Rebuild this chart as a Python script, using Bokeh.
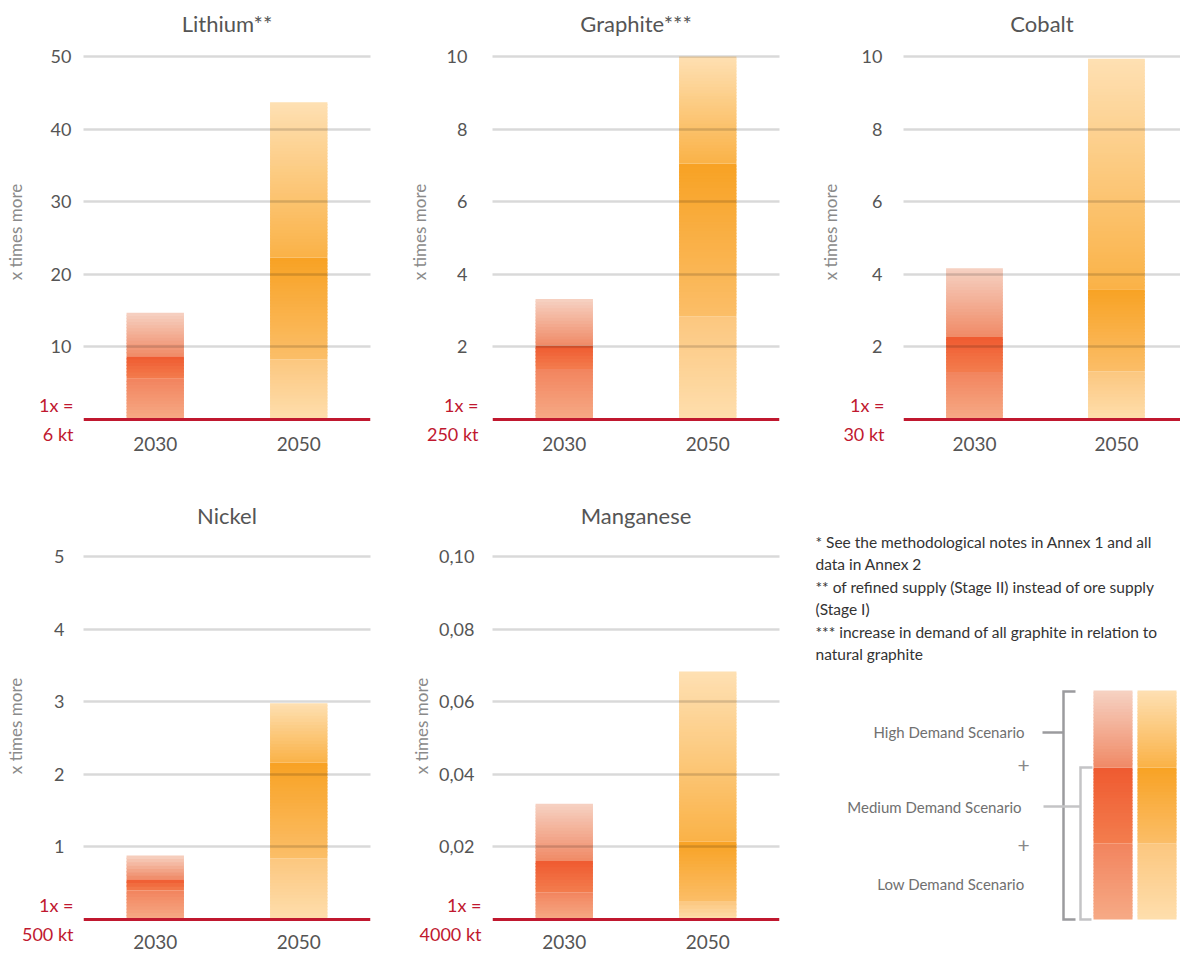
from bokeh.plotting import figure
from bokeh.layouts import column, row
from bokeh.models import Range1d, FixedTicker, Span, LinearAxis, ColumnDataSource
from bokeh.embed import file_html
from bokeh.resources import INLINE
from bokeh.core.properties import value

FONT = "Lato"

# ---------------- data ----------------
years = ["2030", "2050"]
materials = ["Lithium**", "Graphite***", "Cobalt", "Nickel", "Manganese"]
base_units = ["1x =\n6 kt", "1x =\n250 kt", "1x =\n30 kt", "1x =\n500 kt", "1x =\n4000 kt"]

# demand as multiple of current supply; [2030, 2050]
lithium_low = [5.6, 8.3]
lithium_medium = [8.7, 22.3]
lithium_high = [14.7, 43.7]

graphite_low = [1.39, 2.84]
graphite_medium = [2.03, 7.05]
graphite_high = [3.32, 10.0]

cobalt_low = [1.31, 1.32]
cobalt_medium = [2.27, 3.59]
cobalt_high = [4.17, 9.94]

nickel_low = [0.40, 0.84]
nickel_medium = [0.556, 2.16]
nickel_high = [0.88, 2.98]

manganese_low = [0.0075, 0.0049]
manganese_medium = [0.0161, 0.0214]
manganese_high = [0.0319, 0.0683]

lithium_ticks = [10, 20, 30, 40, 50]
lithium_tick_labels = ["10", "20", "30", "40", "50"]
graphite_ticks = [2, 4, 6, 8, 10]
graphite_tick_labels = ["2", "4", "6", "8", "10"]
cobalt_ticks = [2, 4, 6, 8, 10]
cobalt_tick_labels = ["2", "4", "6", "8", "10"]
nickel_ticks = [1, 2, 3, 4, 5]
nickel_tick_labels = ["1", "2", "3", "4", "5"]
manganese_ticks = [0.02, 0.04, 0.06, 0.08, 0.10]
manganese_tick_labels = ["0,02", "0,04", "0,06", "0,08", "0,10"]

scenario_labels = ["High Demand Scenario", "Medium Demand Scenario", "Low Demand Scenario"]
notes = [
    "* See the methodological notes in Annex 1 and all",
    "data in Annex 2",
    "** of refined supply (Stage II) instead of ore supply",
    "(Stage I)",
    "*** increase in demand of all graphite in relation to",
    "natural graphite",
]

# ---------------- styles ----------------
# (bottom colour, top colour) of each scenario band
RED = {"low": ("#F6AA86", "#F2845E"), "medium": ("#F37D4E", "#EF5A30"), "high": ("#F08A66", "#F6D2C3")}
ORANGE = {"low": ("#FEDEAD", "#FCC77F"), "medium": ("#FBBE68", "#F8A224"), "high": ("#FAB247", "#FEE0B3")}
PALETTES = [RED, ORANGE]
BASE_RED = "#C0182F"
TXT = "#555555"
PX_PER_X = 143.5
DATA_PX = 363.0


def rgb(h):
    return tuple(int(h[i:i + 2], 16) for i in (1, 3, 5))


def mix(c1, c2, t):
    a, b = rgb(c1), rgb(c2)
    return "#%02x%02x%02x" % tuple(round(a[k] + (b[k] - a[k]) * t) for k in range(3))


def gradient(bottom, top, c_bot, c_top, px_height):
    """Split one band into ~3px slices (slightly overlapping) to imitate a colour gradient."""
    n = max(2, int(abs(px_height) / 3))
    bs, ts, cs = [], [], []
    h = (top - bottom) / n
    for i in range(n):
        b = bottom + h * i
        t = bottom + h * (i + 1)
        if i < n - 1:
            t += h * 0.4
        bs.append(b)
        ts.append(t)
        cs.append(mix(c_bot, c_top, (i + 0.5) / n))
    return bs, ts, cs


def make_panel(title, low, med, high, ticks, tick_labels, base_text, s):
    T = ticks[-1]
    ppu = DATA_PX / T
    frame_top = s["zero"] - DATA_PX - s["pad_t"]
    frame_bot = s["zero"] + 2
    frame_w = min(287, s["w"] - s["left"])
    b_right = s["w"] - s["left"] - frame_w
    p = figure(width=s["w"], height=s["h"], output_backend="svg", toolbar_location=None,
               x_range=Range1d(0, frame_w / PX_PER_X),
               y_range=Range1d(-2 / ppu, T + s["pad_t"] / ppu),
               min_border_left=s["left"], min_border_right=b_right,
               min_border_top=int(frame_top), min_border_bottom=int(s["h"] - frame_bot),
               title=title)
    p.outline_line_color = None
    p.title.align = "center"
    p.title.text_font = FONT
    p.title.text_font_size = "22px"
    p.title.text_font_style = "normal"
    p.title.text_color = TXT
    p.title.standoff = s["title_so"]

    # bars with gradient bands
    xs, bs, ts, cs = [], [], [], []
    for i in range(len(years)):
        pal = PALETTES[i]
        for (b, t, key) in ((0, low[i], "low"), (low[i], med[i], "medium"), (med[i], high[i], "high")):
            gb, gt, gc = gradient(b, t, pal[key][0], pal[key][1], (t - b) * ppu)
            xs += [i + 0.5] * len(gb)
            bs += gb
            ts += gt
            cs += gc
    src = ColumnDataSource(dict(x=xs, bottom=bs, top=ts, color=cs))
    p.vbar(x="x", width=0.4, bottom="bottom", top="top", fill_color="color",
           line_color=None, source=src)

    # grid drawn over the bars
    p.xgrid.visible = False
    p.ygrid.ticker = FixedTicker(ticks=ticks)
    p.ygrid.grid_line_color = "black"
    p.ygrid.grid_line_alpha = 0.15
    p.ygrid.grid_line_width = 2.5
    p.ygrid.level = "overlay"

    # x axis: years
    xa = p.xaxis[0]
    xa.ticker = FixedTicker(ticks=[i + 0.5 for i in range(len(years))])
    xa.major_label_overrides = {i + 0.5: y for i, y in enumerate(years)}
    xa.major_label_text_font_size = "19px"
    xa.major_label_standoff = s["xlab_so"]

    # inner left axis: reference quantity (1x = ...) at zero, in red
    ra = p.yaxis[0]
    ra.ticker = FixedTicker(ticks=[0])
    ra.major_label_overrides = {0: base_text}
    ra.major_label_text_color = BASE_RED
    ra.major_label_text_font_size = "18px"
    ra.major_label_text_line_height = 1.35
    ra.major_label_text_align = "left"
    ra.major_label_standoff = s["red_so"]

    # outer left axis: multiples
    ma = LinearAxis(ticker=FixedTicker(ticks=ticks),
                    major_label_overrides=dict(zip(ticks, tick_labels)))
    ma.major_label_text_font_size = "18px"
    ma.major_label_text_color = TXT
    ma.major_label_standoff = s["tick_so"] - (s["red_so"] + s["red_w"])
    ma.axis_label = "x times more"
    ma.axis_label_text_font = FONT
    ma.axis_label_text_font_size = "17px"
    ma.axis_label_text_font_style = "normal"
    ma.axis_label_text_color = "#8a8a8a"
    ma.axis_label_standoff = s["axlab_so"]
    p.add_layout(ma, "left")

    for ax in (xa, ra, ma):
        ax.axis_line_color = None
        ax.major_tick_line_color = None
        ax.minor_tick_line_color = None
        ax.major_tick_out = 0
        ax.major_tick_in = 0
        ax.minor_tick_out = 0
        ax.major_label_text_font = FONT
    xa.major_label_text_color = TXT

    p.add_layout(Span(location=0, dimension="width", line_color=BASE_RED, line_width=3))
    return p


ROW1 = dict(h=470, zero=419, pad_t=14, title_so=12, xlab_so=15)
ROW2 = dict(h=482, zero=449, pad_t=26, title_so=4, xlab_so=13)

s1 = dict(ROW1, w=405, left=83, red_so=10, red_w=35, tick_so=10, axlab_so=22)
s2 = dict(ROW1, w=411, left=87, red_so=14, red_w=51, tick_so=21, axlab_so=14)
s3 = dict(ROW1, w=364, left=84, red_so=19, red_w=41, tick_so=18, axlab_so=18)
s4 = dict(ROW2, w=405, left=83, red_so=10, red_w=51, tick_so=15, axlab_so=25)
s5 = dict(ROW2, w=410, left=87, red_so=11, red_w=62, tick_so=15, axlab_so=4)

p1 = make_panel(materials[0], lithium_low, lithium_medium, lithium_high, lithium_ticks,
                lithium_tick_labels, base_units[0], s1)
p2 = make_panel(materials[1], graphite_low, graphite_medium, graphite_high, graphite_ticks,
                graphite_tick_labels, base_units[1], s2)
p3 = make_panel(materials[2], cobalt_low, cobalt_medium, cobalt_high, cobalt_ticks,
                cobalt_tick_labels, base_units[2], s3)
p4 = make_panel(materials[3], nickel_low, nickel_medium, nickel_high, nickel_ticks,
                nickel_tick_labels, base_units[3], s4)
p5 = make_panel(materials[4], manganese_low, manganese_medium, manganese_high, manganese_ticks,
                manganese_tick_labels, base_units[4], s5)

# ---------------- notes + legend panel (coordinates = page pixels) ----------------
X0 = 815
QW, QH = 367, ROW2["h"]
FT, FB = 530, 921            # frame top / bottom on the page (shared with the row)
q = figure(width=QW, height=QH, output_backend="svg", toolbar_location=None,
           x_range=Range1d(X0, X0 + QW), y_range=Range1d(FB, FT),
           min_border_left=0, min_border_right=0,
           min_border_top=FT - 470, min_border_bottom=470 + QH - FB)
q.axis.visible = False
q.grid.visible = False
q.outline_line_color = None

note_y = [541.5 + 22.4 * i for i in range(len(notes))]
q.text(x=[815] * len(notes), y=note_y, text=notes, text_font=value(FONT), text_font_size="15.5px",
       text_color="#333333", text_align="left", text_baseline="middle")

q.text(x=[1024, 1021, 1024], y=[731, 806, 883], text=scenario_labels, text_font=value(FONT),
       text_font_size="15px", text_color="#707070", text_align="right", text_baseline="middle")
q.text(x=[1023, 1023], y=[765, 845], text=["+", "+"], text_font=value(FONT),
       text_font_size="21px", text_color="#888888", text_align="center", text_baseline="middle")

# brackets
q.multi_line(xs=[[1075, 1063, 1063, 1075], [1042, 1063]], ys=[[691, 691, 919, 919], [732, 732]],
             line_color="#9b9b9e", line_width=2.5, line_join="miter")
q.multi_line(xs=[[1092, 1080, 1080, 1091], [1043, 1080]], ys=[[767, 767, 919, 919], [806, 806]],
             line_color="#c4c4c6", line_width=2.5, line_join="miter")

# legend gradient bars
lx, rx, bt, tp, lc = [], [], [], [], []
bands = [("low", 919, 843), ("medium", 843, 767), ("high", 767, 690)]
for pal, (l, r) in zip(PALETTES, [(1093, 1132), (1137, 1176)]):
    for key, ybot, ytop in bands:
        gb, gt, gc = gradient(ybot, ytop, pal[key][0], pal[key][1], ybot - ytop)
        lx += [l] * len(gb)
        rx += [r] * len(gb)
        bt += gb
        tp += gt
        lc += gc
q.quad(left=lx, right=rx, bottom=bt, top=tp, fill_color=lc, line_color=None)

layout = column(row(p1, p2, p3), row(p4, p5, q))
open("out.html", "w").write(file_html(layout, INLINE))
